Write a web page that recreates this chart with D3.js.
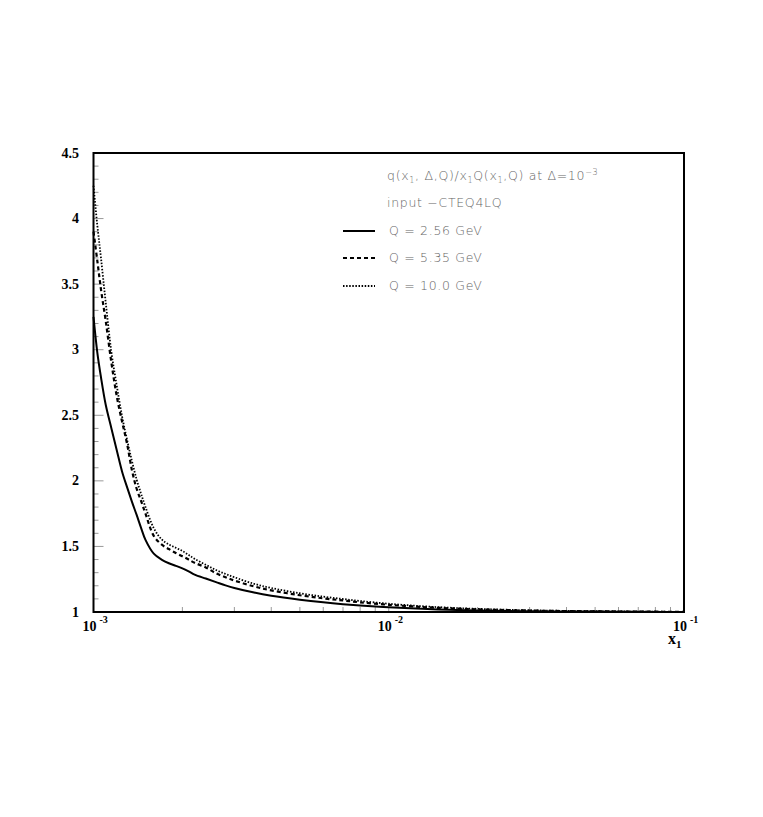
<!DOCTYPE html>
<html><head><meta charset="utf-8">
<script src="https://cdn.jsdelivr.net/npm/d3@7"></script>
<style>body{margin:0;background:#fff}svg{display:block}</style>
</head><body>
<svg id="c" width="763" height="817"></svg>
<script>
const xValues = [0.001,0.00103,0.00106,0.0011,0.00115,0.0012,0.00125,0.0013,0.00135,0.0014,0.00145,0.0015,0.0016,0.0017,0.0018,0.0019,0.002,0.0021,0.0022,0.0024,0.0026,0.0028,0.003,0.0035,0.004,0.005,0.006,0.007,0.008,0.01,0.013,0.016,0.02,0.03,0.05,0.07,0.1];
const q256 = [3.25,2.98,2.79,2.58,2.40,2.23,2.07,1.95,1.84,1.74,1.64,1.55,1.445,1.40,1.372,1.352,1.333,1.31,1.285,1.255,1.228,1.203,1.183,1.148,1.124,1.094,1.074,1.06,1.05,1.036,1.024,1.017,1.012,1.006,1.003,1.001,1.0];
const q535 = [3.90,3.68,3.46,3.22,2.90,2.64,2.45,2.28,2.08,1.94,1.845,1.75,1.58,1.515,1.48,1.45,1.425,1.40,1.375,1.34,1.295,1.265,1.24,1.195,1.165,1.128,1.104,1.088,1.074,1.055,1.038,1.028,1.02,1.011,1.005,1.003,1.001];
const q100 = [4.25,3.95,3.70,3.36,2.98,2.72,2.49,2.31,2.15,2.01,1.90,1.80,1.64,1.555,1.515,1.49,1.465,1.435,1.405,1.36,1.32,1.29,1.265,1.215,1.183,1.143,1.117,1.099,1.084,1.063,1.044,1.033,1.024,1.013,1.006,1.003,1.001];
const seriesNames = ["Q = 2.56 GeV","Q = 5.35 GeV","Q = 10.0 GeV"];
const yMajorTicks = [1,1.5,2,2.5,3,3.5,4,4.5];
const yTickLabels = ["1","1.5","2","2.5","3","3.5","4","4.5"];
const xMajorTicks = [0.001,0.01,0.1];
const xTickExps = ["-3","-2","-1"];

const svg = d3.select("#c");
const L=93.5, R=684, T=153, B=612;
const x = d3.scaleLog().domain([0.001,0.1]).range([L,R]);
const y = d3.scaleLinear().domain([1,4.5]).range([B,T]);
const serif = "Liberation Serif, Times New Roman, serif";

// y ticks
const yMinor = d3.range(10,46).map(d=>d/10).filter(v=>!yMajorTicks.some(m=>Math.abs(m-v)<1e-9));
svg.append("g").selectAll("line").data(yMinor).join("line")
  .attr("x1",L).attr("x2",L+5).attr("y1",d=>y(d)).attr("y2",d=>y(d))
  .attr("stroke","#999").attr("stroke-width",1);
svg.append("g").selectAll("line").data(yMajorTicks).join("line")
  .attr("x1",L).attr("x2",L+10).attr("y1",d=>y(d)).attr("y2",d=>y(d))
  .attr("stroke","#999").attr("stroke-width",1);
svg.append("g").selectAll("text").data(yMajorTicks).join("text")
  .attr("x",79).attr("y",d=>y(d)+4.5).attr("text-anchor","end")
  .attr("font-family",serif).attr("font-weight","bold").attr("font-size",14)
  .text((d,i)=>yTickLabels[i]);

// x ticks
const xMinor = [];
[0.001,0.01].forEach(b=>{for(let k=2;k<=9;k++) xMinor.push(b*k);});
svg.append("g").selectAll("line").data(xMinor.concat(xMajorTicks)).join("line")
  .attr("x1",d=>x(d)).attr("x2",d=>x(d)).attr("y1",B).attr("y2",B-5)
  .attr("stroke","#999").attr("stroke-width",1);
const xl = svg.append("g").selectAll("text").data(xMajorTicks).join("text")
  .attr("x",d=>x(d)-11).attr("y",631)
  .attr("font-family",serif).attr("font-weight","bold").attr("font-size",14);
xl.append("tspan").text("10");
xl.append("tspan").attr("dx",3).attr("dy",-8).attr("font-size",10).text((d,i)=>xTickExps[i]);

const xt = svg.append("text").attr("x",668).attr("y",644)
  .attr("font-family",serif).attr("font-weight","bold").attr("font-size",16);
xt.append("tspan").text("x");
xt.append("tspan").attr("dy",4).attr("font-size",11).text("1");

// frame
svg.append("rect").attr("x",L).attr("y",T).attr("width",R-L).attr("height",B-T)
  .attr("fill","none").attr("stroke","#000").attr("stroke-width",2);

// curves
const data = [q256,q535,q100];
const styles = [{w:2,d:null},{w:2.2,d:"4,3"},{w:1.8,d:"1.5,1.6"}];
const line = d3.line().x(d=>x(d[0])).y(d=>y(d[1])).curve(d3.curveCatmullRom.alpha(0.5));
data.forEach((s,i)=>{
  svg.append("path").datum(xValues.map((xv,j)=>[xv,s[j]]))
    .attr("d",line).attr("fill","none").attr("stroke","#000")
    .attr("stroke-width",styles[i].w).attr("stroke-dasharray",styles[i].d);
});

// legend
const font = "DejaVu Sans, Verdana, sans-serif";
const tcol = "#666";
function txt(xp,yp){return svg.append("text").attr("x",xp).attr("y",yp).attr("font-family",font)
  .attr("font-size",12.5).attr("letter-spacing",0.7).attr("fill",tcol).attr("font-weight",300);}
const title = txt(387,180);
title.append("tspan").text("q(x");
title.append("tspan").attr("dy",3).attr("font-size",8).text("1");
title.append("tspan").attr("dy",-3).text(", Δ,Q)/x");
title.append("tspan").attr("dy",3).attr("font-size",8).text("1");
title.append("tspan").attr("dy",-3).text("Q(x");
title.append("tspan").attr("dy",3).attr("font-size",8).text("1");
title.append("tspan").attr("dy",-3).text(",Q) at Δ=10");
title.append("tspan").attr("dy",-5).attr("font-size",8).text("−3");
txt(387,207).text("input −CTEQ4LQ");
const legY = [231,258,286];
seriesNames.forEach((n,i)=>{
  svg.append("line").attr("x1",343).attr("x2",375).attr("y1",legY[i]).attr("y2",legY[i])
    .attr("stroke","#000").attr("stroke-width",styles[i].w).attr("stroke-dasharray",styles[i].d);
  txt(389,legY[i]+4).text(n);
});
</script>
</body></html>
